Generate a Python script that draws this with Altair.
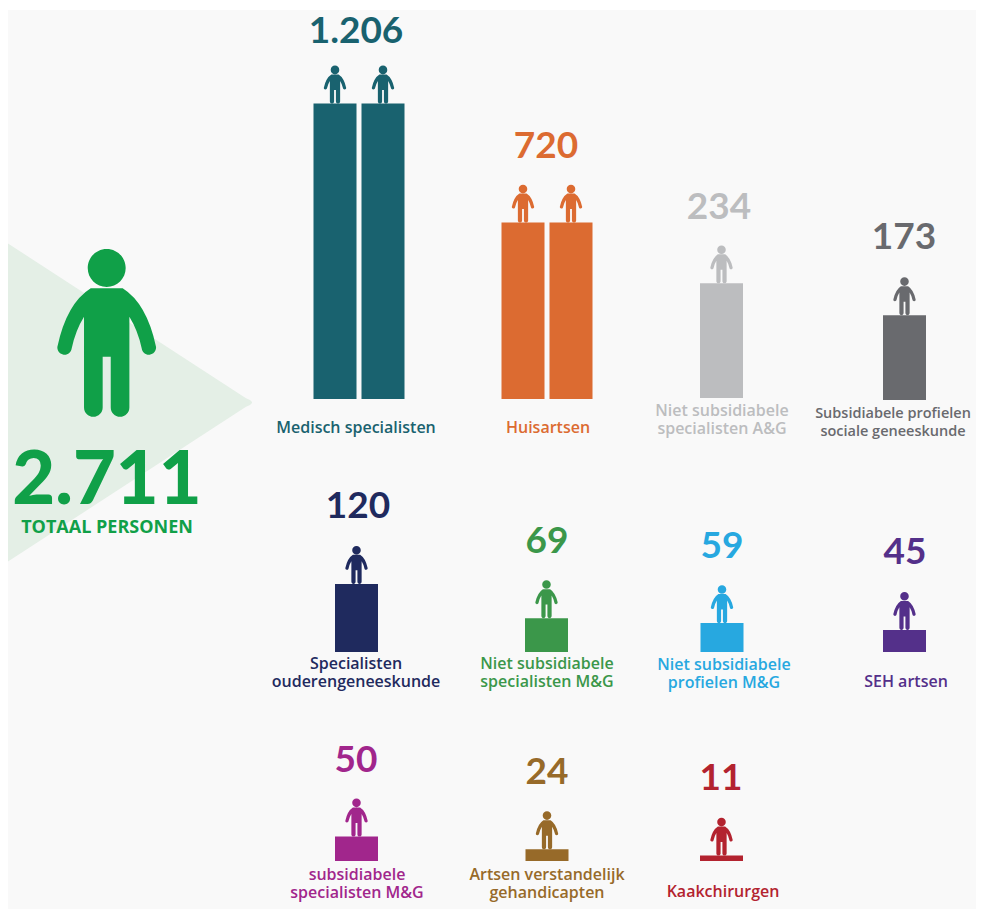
import altair as alt
import pandas as pd

# --- chart values ---
categories = [
    "Medisch specialisten", "Huisartsen", "Niet subsidiabele\nspecialisten A&G",
    "Subsidiabele profielen\nsociale geneeskunde", "Specialisten\nouderengeneeskunde",
    "Niet subsidiabele\nspecialisten M&G", "Niet subsidiabele\nprofielen M&G", "SEH artsen",
    "subsidiabele\nspecialisten M&G", "Artsen verstandelijk\ngehandicapten", "Kaakchirurgen",
]
value_labels = ["1.206", "720", "234", "173", "120", "69", "59", "45", "50", "24", "11"]
bar_values = [1206, 720, 234, 173, 139, 69, 59, 45, 50, 24, 11]  # as drawn (120 is drawn taller)
total_label = "2.711"
total_caption = "TOTAAL PERSONEN"

# --- styling ---
colors = ["#19626f", "#dc6b31", "#bcbdbf", "#696a6e", "#1f2a5e", "#3b974a",
          "#27a8e0", "#54308a", "#a1268c", "#976a29", "#b3232f"]
TOTAL_GREEN = "#10a048"
TRIANGLE = "#e4efe6"
PAPER = "#f9f9f9"
FONT = "Lato"
LABEL_FONT = "Open Sans"

# --- layout ---
slot_x = [335, 523, 721.5, 904.5, 356.5, 546.5, 722, 904.5, 356.5, 547, 721.5]
bars_in_slot = [2, 2, 1, 1, 1, 1, 1, 1, 1, 1, 1]
bar_bases = [399, 399, 398, 400, 652, 652, 652, 652, 861, 861, 861]
value_x = [356, 546, 719, 904, 358, 547, 722, 905, 356, 547, 721]
value_y = [43, 158, 219, 249, 518, 553, 558, 564, 772, 784, 790]
label_x = [356, 548, 722, 893, 356, 547, 724, 906, 357, 547, 723]
label_y = [433, 433, 416, 418, 669, 669, 670, 687, 880, 880, 897]
label_size = [16, 16, 16, 14.5, 16, 16, 16, 16, 16, 16, 16]
PX_PER_UNIT = 0.49
BAR_W = 43
PAIR_STEP = 48
PERSON_H = 38

PERSON = (
    "M-0.19,-0.528 L0.19,-0.528 Q0.476,-0.349 0.587,0.167 A0.085,0.085 0 0 1 0.417,0.187 "
    "Q0.37,-0.03 0.27,-0.19 L0.27,0.889 A0.111,0.111 0 0 1 0.048,0.889 L0.048,0.286 "
    "L-0.048,0.286 L-0.048,0.889 A0.111,0.111 0 0 1 -0.27,0.889 L-0.27,-0.19 "
    "Q-0.37,-0.03 -0.417,0.187 A0.085,0.085 0 0 1 -0.587,0.167 Q-0.476,-0.349 -0.19,-0.528 Z "
    "M-0.226,-0.77 A0.226,0.226 0 1 1 0.226,-0.77 A0.226,0.226 0 1 1 -0.226,-0.77 Z"
)

rows = []
for i, cat in enumerate(categories):
    n = bars_in_slot[i]
    h = bar_values[i] * PX_PER_UNIT / n
    for k in range(n):
        cx = slot_x[i] + k * PAIR_STEP if n == 2 else slot_x[i]
        rows.append(dict(cx=cx, x0=cx - BAR_W / 2, x1=cx + BAR_W / 2, base=bar_bases[i],
                         top=bar_bases[i] - h, person_y=bar_bases[i] - h - PERSON_H / 2,
                         size=PERSON_H ** 2, color=colors[i]))
bars = pd.DataFrame(rows)
texts = pd.DataFrame(dict(cat=categories, val=value_labels, color=colors, vx=value_x, vy=value_y,
                          lx=label_x, ly=label_y, ls=label_size))

# The scales read in page pixels; the chart fills the window minus the page margin.
X = alt.Scale(domain=[8, 976], nice=False, zero=False)
Y = alt.Scale(domain=[909, 8], nice=False, zero=False)
def qx(f): return alt.X(f, type="quantitative", scale=X, axis=None)
def qy(f): return alt.Y(f, type="quantitative", scale=Y, axis=None)
col = alt.Color("color:N", scale=None, legend=None)

paper = alt.Chart(pd.DataFrame(dict(a=[8], b=[976], c=[10], d=[909]))).mark_rect(color=PAPER).encode(
    x=qx("a"), x2="b", y=qy("c"), y2="d")

tri = pd.DataFrame(dict(x=[8, 246, 250, 252], y=[243.5, 398.2, 400, 402], y2=[561.5, 406.8, 405, 403]))
triangle = alt.Chart(tri).mark_area(color=TRIANGLE, interpolate="linear", orient="vertical").encode(
    x=qx("x"), y=qy("y"), y2="y2")

bar_layer = alt.Chart(bars).mark_rect().encode(x=qx("x0"), x2="x1", y=qy("top"), y2="base", color=col)
person_layer = alt.Chart(bars).mark_point(shape=PERSON, filled=True, opacity=1, strokeWidth=0).encode(
    x=qx("cx"), y=qy("person_y"), size=alt.Size("size:Q", scale=None, legend=None), color=col)

val_layer = alt.Chart(texts).mark_text(font=FONT, fontWeight="bold", fontSize=37, baseline="alphabetic",
                                       align="center").encode(x=qx("vx"), y=qy("vy"), text="val:N", color=col)
lab_layer = alt.Chart(texts).mark_text(font=LABEL_FONT, fontWeight=600, baseline="alphabetic",
                                       align="center", lineBreak="\n", lineHeight=18).encode(
    x=qx("lx"), y=qy("ly"), text="cat:N", color=col, size=alt.Size("ls:Q", scale=None, legend=None))

big = pd.DataFrame(dict(x=[106.7], y=[332.7], size=[168 ** 2]))
big_person = alt.Chart(big).mark_point(shape=PERSON, filled=True, opacity=1, strokeWidth=0, color=TOTAL_GREEN).encode(
    x=qx("x"), y=qy("y"), size=alt.Size("size:Q", scale=None, legend=None))
tot = alt.Chart(pd.DataFrame(dict(x=[107], y=[504], t=[total_label]))).mark_text(
    font=FONT, fontWeight=900, fontSize=74, baseline="alphabetic", align="center", color=TOTAL_GREEN
).encode(x=qx("x"), y=qy("y"), text="t:N")
cap = alt.Chart(pd.DataFrame(dict(x=[107], y=[533], t=[total_caption]))).mark_text(
    font=LABEL_FONT, fontWeight="bold", fontSize=18, baseline="alphabetic", align="center", color=TOTAL_GREEN
).encode(x=qx("x"), y=qy("y"), text="t:N")

chart = (
    alt.layer(paper, triangle, bar_layer, person_layer, val_layer, lab_layer, big_person, tot, cap)
    .properties(width=968, height=901, padding=0, autosize=alt.AutoSizeParams(type="none"), background="white")
    .configure_view(stroke=None)
)
chart.save("out.html", embed_options={"renderer": "svg", "actions": False})
